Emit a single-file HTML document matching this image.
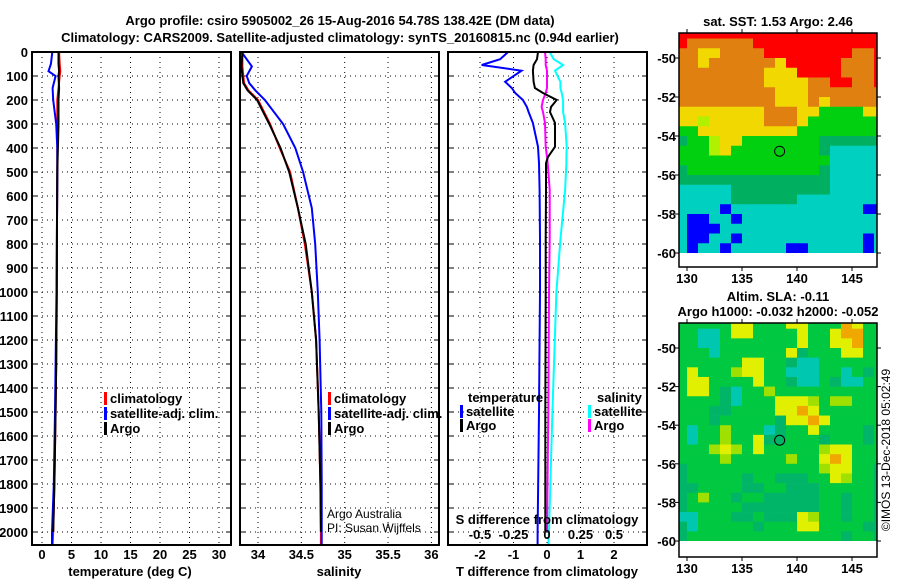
<!DOCTYPE html>
<html><head><meta charset="utf-8">
<style>
html,body{margin:0;padding:0;background:#fff;}
svg{display:block;font-family:"Liberation Sans",Arial,sans-serif;}
.b{font-weight:bold;font-size:13px;}
.t{font-weight:bold;font-size:13px;}
</style></head>
<body>
<svg id="chart" width="900" height="580" viewBox="0 0 900 580" xmlns="http://www.w3.org/2000/svg">
<text class="t" x="340" y="25" text-anchor="middle">Argo profile: csiro 5905002_26 15-Aug-2016 54.78S 138.42E (DM data)</text>
<text class="t" x="340" y="42" text-anchor="middle">Climatology: CARS2009. Satellite-adjusted climatology: synTS_20160815.nc (0.94d earlier)</text>
<text class="b" x="778" y="26" text-anchor="middle">sat. SST: 1.53 Argo: 2.46</text>
<text class="b" x="778" y="301" text-anchor="middle">Altim. SLA: -0.11</text>
<text class="b" x="778" y="316" text-anchor="middle">Argo h1000: -0.032 h2000: -0.052</text>
<text x="890" y="450" font-size="12" text-anchor="middle" transform="rotate(-90 890 450)">©IMOS 13-Dec-2018 05:02:49</text>
<g id="layer"></g>
</svg>
<script>
// ---------- data ----------
const depthTicks = [0,100,200,300,400,500,600,700,800,900,1000,1100,1200,1300,1400,1500,1600,1700,1800,1900,2000];
const tempTicks = [0,5,10,15,20,25,30];
const salTicks = [34,34.5,35,35.5,36];
const salTickLabels = ["34","34.5","35","35.5","36"];
const tdiffTicks = [-2,-1,0,1,2];
const sdiffTicks = [-0.5,-0.25,0,0.25,0.5];
const sdiffTickLabels = ["-0.5","-0.25","0","0.25","0.5"];

const tempDepth = [0,50,80,100,150,200,300,400,500,700,1000,1300,1500,1800,2000,2050];
const tempClim = [2.9,3.0,3.1,3.0,2.8,2.6,2.6,2.6,2.6,2.55,2.5,2.4,2.3,2.1,1.9,1.8];
const tempSat = [1.75,1.5,1.1,2.3,1.8,1.9,2.4,2.6,2.6,2.55,2.45,2.3,2.2,2.0,1.7,1.7];
const tempArgo = [2.8,2.8,2.9,2.8,2.9,2.8,2.8,2.7,2.6,2.55,2.5,2.4,2.3,2.1,1.9];

const salDepth = [0,60,100,130,160,200,300,400,500,650,800,1000,1200,1500,1800,2000,2050];
const salClim = [33.82,33.82,33.83,33.84,33.89,34.0,34.14,34.25,34.37,34.46,34.54,34.62,34.67,34.70,34.72,34.725,34.725];
const salSat = [33.81,33.93,33.87,33.9,33.97,34.08,34.29,34.43,34.52,34.62,34.66,34.69,34.71,34.73,34.735,34.735,34.735];
const salArgo = [33.82,33.81,33.82,33.83,33.88,33.99,34.13,34.26,34.36,34.46,34.55,34.62,34.67,34.70,34.72,34.725];

const diffDepth = [0,30,54,78,124,150,171,200,229,250,296,395,437,463,575,783,1000,1500,2000,2050];
const tdiffSat = [-1.16,-1.4,-1.95,-0.76,-1.25,-1.05,-0.95,-0.72,-0.6,-0.55,-0.42,-0.27,-0.25,-0.24,-0.22,-0.21,-0.21,-0.24,-0.28,-0.28];
const tdiffArgo = [-0.27,-0.3,-0.4,-0.42,-0.4,-0.36,-0.12,0.29,0.12,0.09,0.24,0.24,0.03,-0.03,-0.03,-0.04,-0.04,-0.05,-0.05];
const sdiffArgo = [-0.015,-0.01,-0.01,0,0,0,-0.01,-0.03,-0.04,-0.03,-0.015,-0.01,0,0.005,0.02,0.02,0.015,0.01,0.0];
const sdiffSat = [0.02,0.05,0.12,0.06,0.1,0.1,0.11,0.12,0.12,0.12,0.135,0.147,0.145,0.145,0.135,0.1,0.07,0.04,0.015,0.01];

const latTicks = [-50,-52,-54,-56,-58,-60];
const lonTicks = [130,135,140,145];
const sstCodes = [
"RRRRRRRRRRRRRRRRRRR",
"ROOOOOORRRRRRRRRRRR",
"OOYYOOOORRRRRRRROOR",
"OOYOOOOOOYRRRRROOOR",
"OOOOOOOOYYYRRRROOOR",
"OOOOOOOOYYYYOORROOR",
"OOOOOOOOOYYYOOOOOOO",
"OOOOOOOOOYYYOYOOOOO",
"YYYYYYYYOOOYYGGGGYY",
"YYLYYYYYOOOYGGGGGGG",
"GGYYYYYYYYYGGGGGGGG",
"DGGLYYGGGGGGGDDDDDD",
"GGGLYGGGGGGGGDCCCCC",
"GGGGGGGGGGGGGGCCCCC",
"DGGGGGGGGGGGGDCCCCC",
"DDDDDDDDDDDDDDCCCCC",
"CCCCCDDDDDDDDDCCCCC",
"CCCCCDDDDDDCCCCCCCC",
"CCCCBCCCCCCCCCCCCBB",
"CBBCCBCCCCCCCCCCCCC",
"CBBBCCCCCCCCCCCCCCC",
"CBBCCBCCCCCCCCCCCBC",
"CBCCBCCCCCBBCCCCCBC"];
const slaCodes = [
"gggggyygggyygggoygg",
"ggccgyyggggyggyoogg",
"ggccgggggggyggyyogg",
"gggcggggggydgggyygg",
"ggggggyyggdccgggggg",
"gyggglyyggcccggcgdg",
"gyyggggyggdccgdccgg",
"gyygdcgglgggggggggg",
"ggggdcgggyyylgllggg",
"gggddggggyyoygggggg",
"gggdgggggdyyoyggggg",
"gcgglgggcdggyggggdg",
"gcgglggyddgggdgggdg",
"ggglylgyggggglyyggg",
"gggglggggglggyoyggg",
"dgggggggggggglyyggd",
"dgggggdggdddggylggd",
"ddggggddggdddgggggd",
"dglggdggdddddggdggd",
"dgggggdddddddggdggd",
"ccgggddgdddylggdggd",
"dcgggggdgggyyggggdd",
"dggggggggggggggdggd"];
const argoLon = 138.42, argoLat = -54.78;

// ---------- helpers ----------
const NS = "http://www.w3.org/2000/svg";
const layer = document.getElementById("layer");
function mk(tag, attrs, parent){
  const e = document.createElementNS(NS, tag);
  for (const k in attrs) e.setAttribute(k, attrs[k]);
  (parent||layer).appendChild(e);
  return e;
}
const Y0 = 52, DY = 0.24, PT = 52, PB = 545;
function yD(d){ return Y0 + d*DY; }

function panel(name, x0, x1, xf, xt, xtl, gridX){
  const g = mk("g", {});
  
  
  mk("rect", {x:x0, y:PT, width:x1-x0, height:PB-PT, fill:"#fff"}, g);
  depthTicks.forEach((d,i)=>{
    if (i>0){
      const gl = mk("line", {x1:x0, x2:x1, y1:yD(d), y2:yD(d), stroke:"#000", "stroke-width":1, "stroke-dasharray":"1,4"}, g);
      
      
    }
    mk("line", {x1:x0, x2:x0+5, y1:yD(d), y2:yD(d), stroke:"#000"}, g);
    mk("line", {x1:x1-5, x2:x1, y1:yD(d), y2:yD(d), stroke:"#000"}, g);
  });
  if (gridX) xt.forEach(v=>{
    const gl = mk("line", {x1:xf(v), x2:xf(v), y1:PT, y2:PB, stroke:"#000", "stroke-width":1, "stroke-dasharray":"1,4"}, g);
    
    
  });
  return g;
}
function line(g, name, xs, ds, xf, color, w){
  const pts = xs.map((v,i)=> xf(v).toFixed(1)+","+yD(ds[i]).toFixed(1)).join(" ");
  const p = mk("polyline", {points:pts, fill:"none", stroke:color, "stroke-width":w||2, "stroke-linejoin":"miter"}, g);
  
  
}
function frame(g, x0, x1){
  mk("rect", {x:x0, y:PT, width:x1-x0, height:PB-PT, fill:"none", stroke:"#000", "stroke-width":2}, g);
}
function txt(g, name, x, y, s, anchor, cls){
  const t = mk("text", {x:x, y:y, "text-anchor":anchor||"middle", class:cls||"b"}, g);
  t.textContent = s;
  
  
  return t;
}
function legendEntry(g, name, x, y, color, label){
  const e = mk("g", {}, g);
  
  
  mk("rect", {x:x, y:y-11, width:3, height:13, fill:color}, e);
  const t = mk("text", {x:x+6, y:y, class:"b"}, e);
  t.textContent = label;
}

depthTicks.forEach(d=>{
  txt(layer, 'depth-tick-label', 28, yD(d)+5, String(d), "end");
});

// ---------- panel 1: temperature ----------
const xT = v => 42 + v*5.9;
const p1 = panel('temperature-panel', 32, 231, xT, tempTicks, null, true);
line(p1, 'temp-climatology-line', tempClim, tempDepth, xT, "#f00");
line(p1, 'temp-satellite-line', tempSat, tempDepth, xT, "#00f");
line(p1, 'temp-argo-line', tempArgo, tempDepth, xT, "#000");
frame(p1, 32, 231);
tempTicks.forEach(v=> txt(p1, 'temp-tick-label', xT(v), 559, String(v)));
txt(p1, 'temp-axis-title', 130, 576, "temperature (deg C)");
legendEntry(p1, 'legend-climatology', 104, 403, "#f00", "climatology");
legendEntry(p1, 'legend-satellite-adj', 104, 418, "#00f", "satellite-adj. clim.");
legendEntry(p1, 'legend-argo', 104, 433, "#000", "Argo");

// ---------- panel 2: salinity ----------
const xS = v => 258 + (v-34)*86.7;
const p2 = panel('salinity-panel', 240, 439, xS, salTicks, null, true);
line(p2, 'sal-climatology-line', salClim, salDepth, xS, "#f00");
line(p2, 'sal-satellite-line', salSat, salDepth, xS, "#00f");
line(p2, 'sal-argo-line', salArgo, salDepth, xS, "#000");
frame(p2, 240, 439);
salTicks.forEach((v,i)=> txt(p2, 'sal-tick-label', xS(v), 559, salTickLabels[i]));
txt(p2, 'sal-axis-title', 339, 576, "salinity");
legendEntry(p2, 'legend-climatology-2', 328, 403, "#f00", "climatology");
legendEntry(p2, 'legend-satellite-adj-2', 328, 418, "#00f", "satellite-adj. clim.");
legendEntry(p2, 'legend-argo-2', 328, 433, "#000", "Argo");
const cr = mk("text", {x:327, y:518, "font-size":12}, p2); cr.textContent = "Argo Australia";


const cr2 = mk("text", {x:327, y:532, "font-size":12}, p2); cr2.textContent = "PI: Susan Wijffels";



// ---------- panel 3: differences ----------
const xTd = v => 547 + v*33.5;
const xSd = v => 547 + v*134;
const p3 = panel('difference-panel', 448, 647, xTd, tdiffTicks, null, true);
line(p3, 'tdiff-satellite-line', tdiffSat, diffDepth, xTd, "#00f");
line(p3, 'sdiff-satellite-line', sdiffSat, diffDepth, xSd, "#0ff");
line(p3, 'sdiff-argo-line', sdiffArgo, diffDepth, xSd, "#f0f");
line(p3, 'tdiff-argo-line', tdiffArgo, diffDepth, xTd, "#000");
frame(p3, 448, 647);
tdiffTicks.forEach(v=> txt(p3, 'tdiff-tick-label', xTd(v), 559, String(v)));
sdiffTicks.forEach((v,i)=> txt(p3, 'sdiff-tick-label', xSd(v), 539, sdiffTickLabels[i]));
txt(p3, 'sdiff-axis-title', 547, 524, "S difference from climatology");
txt(p3, 'tdiff-axis-title', 547, 576, "T difference from climatology");
txt(p3, 'legend-temperature-header', 468, 402, "temperature", "start");
legendEntry(p3, 'legend-t-satellite', 460, 416, "#00f", "satellite");
legendEntry(p3, 'legend-t-argo', 460, 430, "#000", "Argo");
txt(p3, 'legend-salinity-header', 597, 402, "salinity", "start");
legendEntry(p3, 'legend-s-satellite', 588, 416, "#0ff", "satellite");
legendEntry(p3, 'legend-s-argo', 588, 430, "#f0f", "Argo");

// ---------- maps ----------
const sstColors = {R:"#ff0000",O:"#e08010",Y:"#f0d800",L:"#b0f000",G:"#00d010",D:"#00b060",C:"#00d0c0",B:"#0000ff"};
const slaColors = {g:"#00c840",d:"#00b468",c:"#00c8b0",y:"#e0f000",l:"#a0e000",o:"#f0a800"};
function map(name, top, bottom, latA, yA, latB, yB, codes, colors){
  const xL = 679, xR = 877;
  const xLon = v => 687 + (v-130)*11;
  const yLat = v => yA + (v-latA)*(yB-yA)/(latB-latA);
  const g = mk("g", {});
  
  
  const cid = name+"-clip";
  const cp = mk("clipPath", {id:cid}, g);
  mk("rect", {x:xL, y:top, width:xR-xL, height:yLat(-60)-top}, cp);
  const cells = mk("g", {"clip-path":"url(#"+cid+")"}, g);
  codes.forEach((row,i)=>{
    for (let j=0;j<row.length;j++){
      const la = -48.5 - i*0.5, lo = 129 + j;
      const r = mk("rect", {x:xLon(lo), y:yLat(la), width:11.3, height:Math.abs(yLat(la-0.5)-yLat(la))+0.3, fill:colors[row[j]]}, cells);
      
      
    }
  });
  mk("rect", {x:xL, y:top, width:xR-xL, height:bottom-top, fill:"none", stroke:"#000", "stroke-width":1.5}, g);
  latTicks.forEach(v=>{
    mk("line", {x1:xL-4, x2:xL, y1:yLat(v), y2:yLat(v), stroke:"#000"}, g);
    mk("line", {x1:xR, x2:xR+4, y1:yLat(v), y2:yLat(v), stroke:"#000"}, g);
    txt(g, 'map-lat-label', 676, yLat(v)+5, String(v), "end");
  });
  lonTicks.forEach(v=>{
    mk("line", {x1:xLon(v), x2:xLon(v), y1:bottom, y2:bottom+4, stroke:"#000"}, g);
    mk("line", {x1:xLon(v), x2:xLon(v), y1:top-4, y2:top, stroke:"#000"}, g);
    txt(g, 'map-lon-label', xLon(v), bottom+16, String(v));
  });
  const c = mk("circle", {cx:xLon(argoLon), cy:yLat(argoLat), r:5, fill:"none", stroke:"#000", "stroke-width":1}, g);
  
  
}
map('sst-map', 33, 267, -50, 58, -60, 253, sstCodes, sstColors);
map('sla-map', 323, 557, -50, 348, -60, 541, slaCodes, slaColors);
</script>
</body></html>
